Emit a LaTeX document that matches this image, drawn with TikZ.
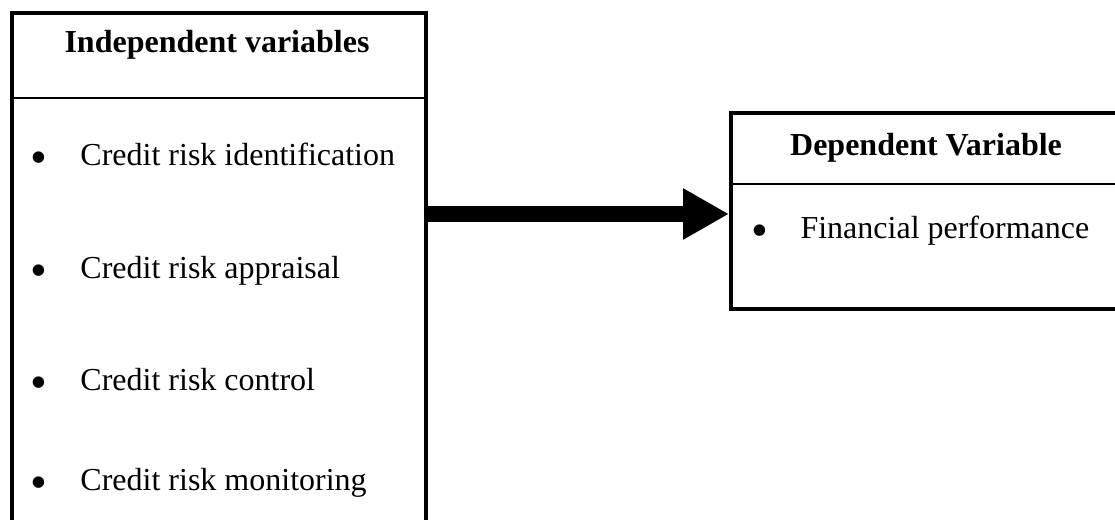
\documentclass[tikz,border=0pt]{standalone}
\usepackage{fontspec}
\setmainfont{Liberation Serif}
\usetikzlibrary{arrows.meta, positioning}
\newcommand{\bigbull}{\hspace{-1.2pt}\raisebox{-3.3pt}{\fontsize{18}{18}\selectfont\textbullet}}

\begin{document}
\begin{tikzpicture}[x=0.375pt, y=-0.375pt,
  font=\fontsize{12}{14}\selectfont,
  box/.style={draw, line width=1.5pt, inner sep=0pt},
  heading/.style={font=\fontsize{12}{14}\selectfont\bfseries, anchor=base, inner sep=0pt},
  bullitem/.style={anchor=base west, inner sep=0pt},
  bigarrow/.style={line width=6pt, -{Triangle[length=17.25pt, width=18pt]}}]
  \useasboundingbox (0,0) rectangle (1115,520);

  % left box (runs off the bottom of the page)
  \node[box, minimum width=155.25pt, minimum height=220pt] (indepbox) at (219,306.5) {};
  \draw[line width=0.75pt] (indepbox.west |- 0,98) -- (indepbox.east |- 0,98);
  \node[heading] (indeptitle) at (217,53) {Independent variables};
  \node[bullitem] (ident) at (33,165) {\makebox[17.6pt][l]{\bigbull}Credit risk identification};
  \node[bullitem] (apprais) at (33,278) {\makebox[17.6pt][l]{\bigbull}Credit risk appraisal};
  \node[bullitem] (control) at (33,390) {\makebox[17.6pt][l]{\bigbull}Credit risk control};
  \node[bullitem] (monitor) at (33,490) {\makebox[17.6pt][l]{\bigbull}Credit risk monitoring};

  % right box (runs off the right edge)
  \node[box, minimum width=149.6pt, minimum height=73.5pt] (depbox) at (930.5,211) {};
  \draw[line width=0.75pt] (depbox.west |- 0,184) -- (depbox.east |- 0,184);
  \node[heading] (deptitle) at (926,155) {Dependent Variable};
  \node[bullitem] (finperf) at (754,238) {\makebox[17.25pt][l]{\bigbull}Financial performance};

  % arrow
  \draw[bigarrow] (indepbox.east |- 0,214) -- (depbox.west |- 0,214);
\end{tikzpicture}
\end{document}
